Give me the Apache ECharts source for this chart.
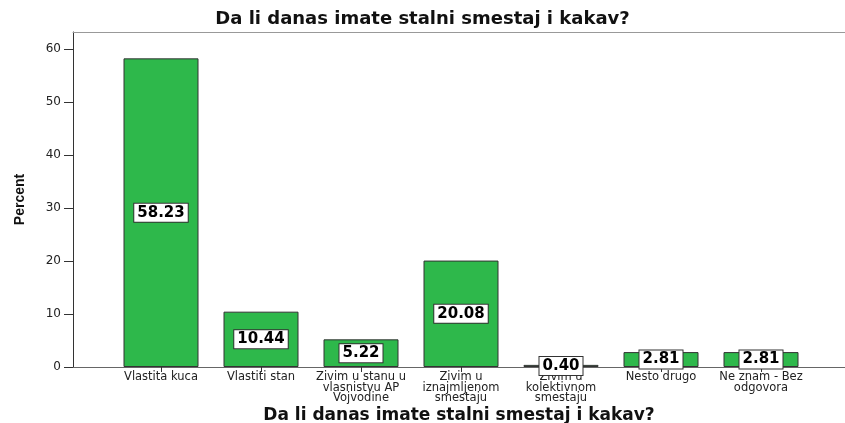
<!DOCTYPE html>
<html>
<head>
<meta charset="utf-8">
<script src="https://cdn.jsdelivr.net/npm/echarts@6/dist/echarts.min.js"></script>
<style>
  html, body { margin: 0; padding: 0; background: #fff; }
  #main { width: 845px; height: 423px; }
</style>
</head>
<body>
<div id="main"></div>
<script>
// podaci
var categories = [
    'Vlastita kuca',
    'Vlastiti stan',
    'Zivim u stanu u\nvlasnistvu AP\nVojvodine',
    'Zivim u\niznajmljenom\nsmestaju',
    'Zivim u\nkolektivnom\nsmestaju',
    'Nesto drugo',
    'Ne znam - Bez\nodgovora'
];
var percents = [58.23, 10.44, 5.22, 20.08, 0.40, 2.81, 2.81];
var yTicks = [0, 10, 20, 30, 40, 50, 60];

var title = 'Da li danas imate stalni smestaj i kakav?';
var yMax = 63.2;

var myChart = echarts.init(document.getElementById('main'));

var option = {
    backgroundColor: '#fff',
    animation: false,
    title: {
        text: title,
        left: 'center',
        top: 5,
        textStyle: {
            fontFamily: 'DejaVu Sans',
            fontWeight: 'bold',
            fontSize: 18,
            color: '#111'
        }
    },
    grid: [
        // grid za stubice
        { left: 111, right: 34, top: 32, bottom: 56, outerBoundsMode: 'none', containLabel: false },
        // okvir + y osa
        { left: 73, right: 0, top: 32, bottom: 56, outerBoundsMode: 'none', containLabel: false }
    ],
    xAxis: [
        {
            type: 'category',
            gridIndex: 0,
            data: categories,
            axisLine: { show: false },
            axisTick: { show: true, alignWithLabel: true, length: 5, lineStyle: { color: '#333' } },
            axisLabel: {
                interval: 0,
                margin: 5,
                fontFamily: 'DejaVu Sans',
                fontSize: 11.5,
                lineHeight: 10.5,
                color: '#222'
            },
            splitLine: { show: false }
        },
        {
            // donja linija okvira, nosi naziv ose
            type: 'value',
            gridIndex: 1,
            min: 0,
            max: 1,
            name: title,
            nameLocation: 'middle',
            nameGap: 40,
            nameTextStyle: {
                fontFamily: 'DejaVu Sans',
                fontWeight: 'bold',
                fontSize: 17,
                color: '#111'
            },
            axisLine: { show: true, lineStyle: { color: '#666', width: 1 } },
            axisTick: { show: false },
            axisLabel: { show: false },
            splitLine: { show: false }
        },
        {
            type: 'value',
            gridIndex: 1,
            position: 'top',
            min: 0,
            max: 1,
            axisLine: { show: true, onZero: false, lineStyle: { color: '#999', width: 1 } },
            axisTick: { show: false },
            axisLabel: { show: false },
            splitLine: { show: false }
        }
    ],
    yAxis: [
        {
            type: 'value',
            gridIndex: 0,
            min: 0,
            max: yMax,
            show: false
        },
        {
            type: 'value',
            gridIndex: 1,
            min: 0,
            max: yMax,
            name: 'Percent',
            nameLocation: 'middle',
            nameGap: 46,
            nameTextStyle: {
                fontFamily: 'Liberation Sans',
                fontWeight: 'bold',
                fontSize: 14,
                color: '#111'
            },
            axisLine: { show: true, onZero: false, lineStyle: { color: '#333', width: 1 } },
            axisTick: { show: true, length: 9, customValues: yTicks, lineStyle: { color: '#333' } },
            axisLabel: {
                customValues: yTicks,
                margin: 12,
                fontFamily: 'DejaVu Sans',
                fontSize: 12,
                color: '#222'
            },
            splitLine: { show: false }
        }
    ],
    series: [
        {
            type: 'bar',
            xAxisIndex: 0,
            yAxisIndex: 0,
            data: percents,
            barWidth: 75,
            itemStyle: {
                color: '#2eb84b',
                borderColor: '#333',
                borderWidth: 1
            },
            label: {
                show: true,
                position: 'inside',
                formatter: function (p) { return p.value.toFixed(2); },
                fontFamily: 'DejaVu Sans',
                fontWeight: 'bold',
                fontSize: 15,
                color: '#000',
                backgroundColor: '#fff',
                borderColor: '#333',
                borderWidth: 1,
                padding: [2, 3, 1, 3]
            }
        }
    ]
};

myChart.setOption(option);
</script>
</body>
</html>
